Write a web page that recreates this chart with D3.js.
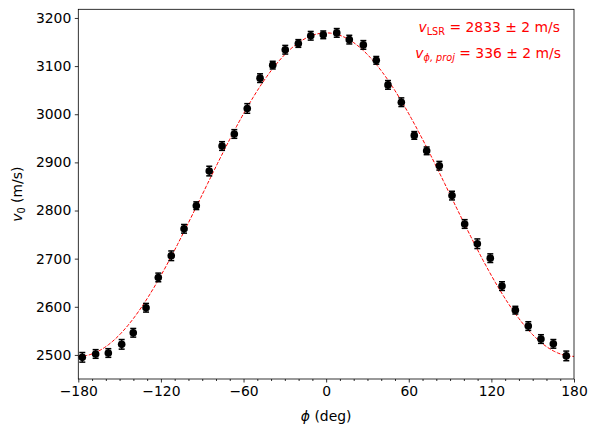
<!DOCTYPE html>
<meta charset="utf-8">
<title>v0 vs phi</title>
<style>
  body { margin: 0; background: #fff; }
  text { font-family: "DejaVu Sans", sans-serif; }
  .tick text { font-size: 13.9px; fill: #000; }
  .tick line { stroke: #000; stroke-width: 0.8px; }
  .domain { display: none; }
</style>
<body>
<script src="https://cdn.jsdelivr.net/npm/d3@7"></script>
<script>
  // measured points (phi in deg, v0 in m/s, 1-sigma error)
  var phi = [-177.1, -167.4, -158.2, -148.5, -140.1, -130.8, -121.9, -112.5, -103.2, -94.3,
    -84.9, -75.6, -66.7, -57.3, -48.0, -38.8, -29.7, -20.2, -11.2, -2.1,
    7.7, 16.8, 27.0, 36.4, 44.9, 54.6, 64.0, 73.0, 82.2, 91.4,
    100.6, 109.8, 119.2, 127.7, 137.4, 146.8, 156.0, 165.0, 174.4];
  var v0 = [2495, 2502, 2504, 2522, 2546, 2598, 2661, 2706, 2762, 2810,
    2882, 2934, 2959, 3012, 3075, 3102, 3134, 3147, 3163, 3165,
    3169, 3155, 3144, 3112, 3061, 3025, 2956, 2924, 2893, 2831,
    2772, 2731, 2701, 2643, 2593, 2560, 2533, 2523, 2498];
  var v0err = [10, 9, 9, 10, 9, 9, 9, 10, 9, 8,
    10, 9, 9, 10, 9, 8, 9, 8, 9, 8,
    9, 9, 9, 8, 9, 9, 8, 8, 9, 9,
    9, 10, 9, 9, 8, 9, 9, 9, 10];

  // fit result: v0 = vLSR + vPhiProj * cos(phi)
  var vLSR = 2833, vLSRerr = 2;
  var vPhiProj = 336, vPhiProjErr = 2;

  var xTicks = [-180, -120, -60, 0, 60, 120, 180];
  var yTicks = [2500, 2600, 2700, 2800, 2900, 3000, 3100, 3200];

  var W = 597, H = 436;
  var margin = {left: 78.3, right: 23, top: 9.3, bottom: 57};

  var svg = d3.select("body").append("svg")
    .attr("width", W)
    .attr("height", H);

  var x = d3.scaleLinear().domain([-180, 180]).range([margin.left, W - margin.right]);
  var y = d3.scaleLinear().domain([2450, 3218]).range([H - margin.bottom, margin.top]);

  var fmt = function(d) { return d < 0 ? "\u2212" + Math.abs(d) : String(d); };

  // axes
  svg.append("g")
    .attr("transform", "translate(0," + (H - margin.bottom) + ")")
    .call(d3.axisBottom(x).tickValues(xTicks).tickFormat(fmt).tickSizeOuter(0).tickSize(3.5).tickPadding(3.5));
  svg.append("g")
    .attr("transform", "translate(0," + (H - margin.bottom) + ")")
    .call(d3.axisBottom(x).tickValues(d3.range(-180, 181, 10).filter(function(d) { return d % 60 != 0; }))
      .tickFormat("").tickSizeOuter(0).tickSize(2));
  svg.append("g")
    .attr("transform", "translate(" + margin.left + ",0)")
    .call(d3.axisLeft(y).tickValues(yTicks).tickFormat(d3.format("d")).tickSizeOuter(0).tickSize(3.5).tickPadding(3.5));

  // fit curve
  var fitPhi = d3.range(-180, 180.01, 1);
  var line = d3.line()
    .x(function(d) { return x(d); })
    .y(function(d) { return y(vLSR + vPhiProj * Math.cos(d * Math.PI / 180)); });
  svg.append("path")
    .datum(fitPhi)
    .attr("d", line)
    .attr("fill", "none")
    .attr("stroke", "red")
    .attr("stroke-width", 1)
    .attr("stroke-dasharray", "3.7,1.6");

  // error bars + markers
  var pts = phi.map(function(p, i) { return {phi: p, v: v0[i], e: v0err[i]}; });
  var g = svg.append("g").selectAll("g").data(pts).enter().append("g");
  g.append("line")
    .attr("x1", function(d) { return x(d.phi); })
    .attr("x2", function(d) { return x(d.phi); })
    .attr("y1", function(d) { return y(d.v - d.e); })
    .attr("y2", function(d) { return y(d.v + d.e); })
    .attr("stroke", "#000").attr("stroke-width", 1.5);
  [-1, 1].forEach(function(s) {
    g.append("line")
      .attr("x1", function(d) { return x(d.phi) - 3; })
      .attr("x2", function(d) { return x(d.phi) + 3; })
      .attr("y1", function(d) { return y(d.v + s * d.e); })
      .attr("y2", function(d) { return y(d.v + s * d.e); })
      .attr("stroke", "#000").attr("stroke-width", 1.5);
  });
  g.append("circle")
    .attr("cx", function(d) { return x(d.phi); })
    .attr("cy", function(d) { return y(d.v); })
    .attr("r", 3.8)
    .attr("fill", "#000");

  // frame
  svg.append("rect")
    .attr("x", margin.left).attr("y", margin.top)
    .attr("width", W - margin.right - margin.left)
    .attr("height", H - margin.bottom - margin.top)
    .attr("fill", "none").attr("stroke", "#000").attr("stroke-width", 0.8);

  // labels
  svg.append("text")
    .attr("x", (margin.left + W - margin.right) / 2)
    .attr("y", 421)
    .attr("text-anchor", "middle")
    .style("font-size", "13.9px")
    .html('<tspan font-style="italic">\u03d5</tspan> (deg)');

  svg.append("text")
    .attr("transform", "translate(22," + ((margin.top + H - margin.bottom) / 2) + ") rotate(-90)")
    .attr("text-anchor", "middle")
    .style("font-size", "13.9px")
    .html('<tspan font-style="italic">v</tspan><tspan font-size="9.7px" dy="3">0</tspan><tspan dy="-3"> (m/s)</tspan>');

  var ann = svg.append("g").style("font-size", "13.9px");
  ann.append("text")
    .attr("x", 560).attr("y", 32)
    .attr("text-anchor", "end")
    .attr("fill", "red")
    .html('<tspan font-style="italic">v</tspan><tspan font-size="9.7px" dy="3">LSR</tspan><tspan dy="-3"> = ' +
      vLSR + ' \u00b1 ' + vLSRerr + ' m/s</tspan>');
  ann.append("text")
    .attr("x", 561).attr("y", 58)
    .attr("text-anchor", "end")
    .attr("fill", "red")
    .html('<tspan font-style="italic">v</tspan><tspan font-size="9.7px" font-style="italic" dy="3">\u03d5, proj</tspan><tspan dy="-3"> = ' +
      vPhiProj + ' \u00b1 ' + vPhiProjErr + ' m/s</tspan>');
</script>
</body>
